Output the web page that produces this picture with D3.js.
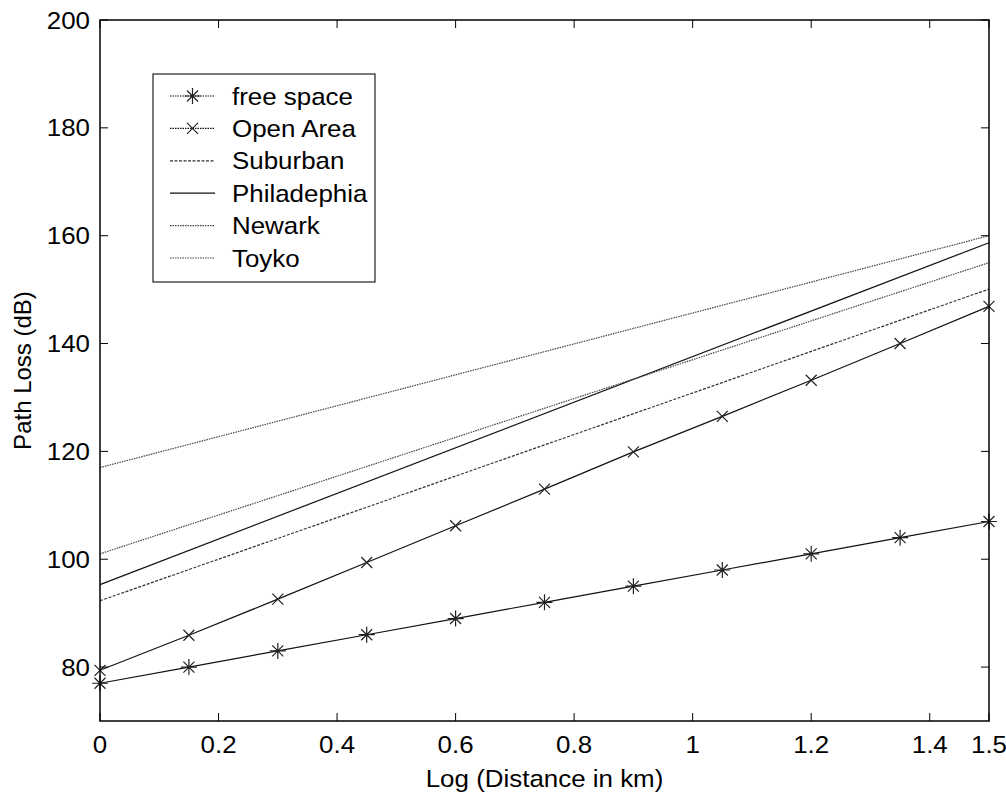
<!DOCTYPE html>
<html>
<head>
<meta charset="utf-8">
<script src="https://cdn.jsdelivr.net/npm/d3@7"></script>
<style>
  body { margin: 0; background: #fff; }
  text { font-family: "Liberation Sans", Arial, sans-serif; fill: #000; font-size: 24px; }
</style>
</head>
<body>
<script>
const width = 1006,
      height = 794;

// sample points (log distance)
const xs = [0, 0.15, 0.3, 0.45, 0.6, 0.75, 0.9, 1.05, 1.2, 1.35, 1.5];
const freeSpace = [77, 80, 83, 86, 89, 92, 95, 98, 101, 104, 107];
const openArea = [79.4, 85.9, 92.6, 99.4, 106.2, 113.0, 119.9, 126.5, 133.2, 140.0, 146.9];

// straight lines, end points only
const lineX = [0, 1.5];
const suburban = [92.3, 150.1];
const philadelphia = [95.3, 158.7];
const newark = [101.0, 155.0];
const tokyo = [117.0, 160.0];

const xTicks = [0, 0.2, 0.4, 0.6, 0.8, 1, 1.2, 1.4, 1.5];
const yTicks = [80, 100, 120, 140, 160, 180, 200];
const legendNames = ["free space", "Open Area", "Suburban", "Philadephia", "Newark", "Toyko"];

const plotLeft = 100, plotRight = 989, plotTop = 20, plotBottom = 721;
const stretch = 1.08; // text in the picture is a bit wide

const x = d3.scaleLinear().domain([0, 1.5]).range([plotLeft, plotRight]);
const y = d3.scaleLinear().domain([70, 200]).range([plotBottom, plotTop]);

const svg = d3.select("body")
    .append("svg")
    .attr("width", width)
    .attr("height", height);

const addText = (g, tx, ty, str, anchor) =>
  g.append("text")
      .attr("transform", `translate(${tx},${ty}) scale(${stretch},1)`)
      .attr("text-anchor", anchor || "start")
      .text(str);

const line = d3.line()
    .x(d => x(d[0]))
    .y(d => y(d[1]));

const styles = [
  {data: d3.zip(xs, freeSpace), dash: null, marker: "star", color: "#111"},
  {data: d3.zip(xs, openArea), dash: null, marker: "cross", color: "#111"},
  {data: d3.zip(lineX, suburban), dash: "3,1.5", color: "#333"},
  {data: d3.zip(lineX, philadelphia), dash: null, color: "#111"},
  {data: d3.zip(lineX, newark), dash: "1.5,1", color: "#444"},
  {data: d3.zip(lineX, tokyo), dash: "1.5,1", color: "#444"}
];

const plot = svg.append("g");

styles.forEach(s => {
  plot.append("path")
      .datum(s.data)
      .attr("d", line)
      .attr("fill", "none")
      .attr("stroke", s.color)
      .attr("stroke-width", 1.2)
      .attr("stroke-dasharray", s.dash);
});

function drawMarker(g, kind, cx, cy) {
  if (kind === "star") {
    const r = 8, d = 5.5;
    g.append("path")
        .attr("d", `M${cx - r},${cy}H${cx + r}M${cx},${cy - r}V${cy + r}` +
                   `M${cx - d},${cy - d}L${cx + d},${cy + d}M${cx - d},${cy + d}L${cx + d},${cy - d}`)
        .attr("stroke", "#222").attr("stroke-width", 1.2).attr("fill", "none");
  } else if (kind === "cross") {
    const d = 5.5;
    g.append("path")
        .attr("d", `M${cx - d},${cy - d}L${cx + d},${cy + d}M${cx - d},${cy + d}L${cx + d},${cy - d}`)
        .attr("stroke", "#222").attr("stroke-width", 1.2).attr("fill", "none");
  }
}

styles.filter(s => s.marker).forEach(s => {
  s.data.forEach(d => drawMarker(plot, s.marker, x(d[0]), y(d[1])));
});

// axes box with inward ticks
const axes = svg.append("g");
axes.append("rect")
    .attr("x", plotLeft).attr("y", plotTop)
    .attr("width", plotRight - plotLeft).attr("height", plotBottom - plotTop)
    .attr("fill", "none").attr("stroke", "#000").attr("stroke-width", 1.5);

const tl = 8;
xTicks.forEach(t => {
  axes.append("line").attr("x1", x(t)).attr("x2", x(t)).attr("y1", plotBottom).attr("y2", plotBottom - tl)
      .attr("stroke", "#000");
  axes.append("line").attr("x1", x(t)).attr("x2", x(t)).attr("y1", plotTop).attr("y2", plotTop + tl)
      .attr("stroke", "#000");
  addText(axes, x(t), plotBottom + 32, t, "middle");
});

yTicks.forEach(t => {
  axes.append("line").attr("x1", plotLeft).attr("x2", plotLeft + tl).attr("y1", y(t)).attr("y2", y(t))
      .attr("stroke", "#000");
  axes.append("line").attr("x1", plotRight).attr("x2", plotRight - tl).attr("y1", y(t)).attr("y2", y(t))
      .attr("stroke", "#000");
  addText(axes, plotLeft - 10, y(t) + 8.5, t, "end");
});

addText(svg, (plotLeft + plotRight) / 2, 787, "Log (Distance in km)", "middle");

svg.append("text")
    .attr("transform", `translate(31,${(plotTop + plotBottom) / 2}) rotate(-90)`)
    .attr("text-anchor", "middle")
    .text("Path Loss (dB)");

// legend
const legend = svg.append("g");
legend.append("rect")
    .attr("x", 153).attr("y", 74)
    .attr("width", 222).attr("height", 208)
    .attr("fill", "#fff").attr("stroke", "#222").attr("stroke-width", 1.2);

legendNames.forEach((name, i) => {
  const ly = 96 + i * 32.4;
  const s = styles[i];
  legend.append("line")
      .attr("x1", 170).attr("x2", 215).attr("y1", ly).attr("y2", ly)
      .attr("stroke", s.color).attr("stroke-width", 1.2)
      .attr("stroke-dasharray", i < 2 ? "1.5,1" : s.dash);
  if (s.marker) drawMarker(legend, s.marker, 192.5, ly);
  addText(legend, 232, ly + 8.5, name);
});
</script>
</body>
</html>
